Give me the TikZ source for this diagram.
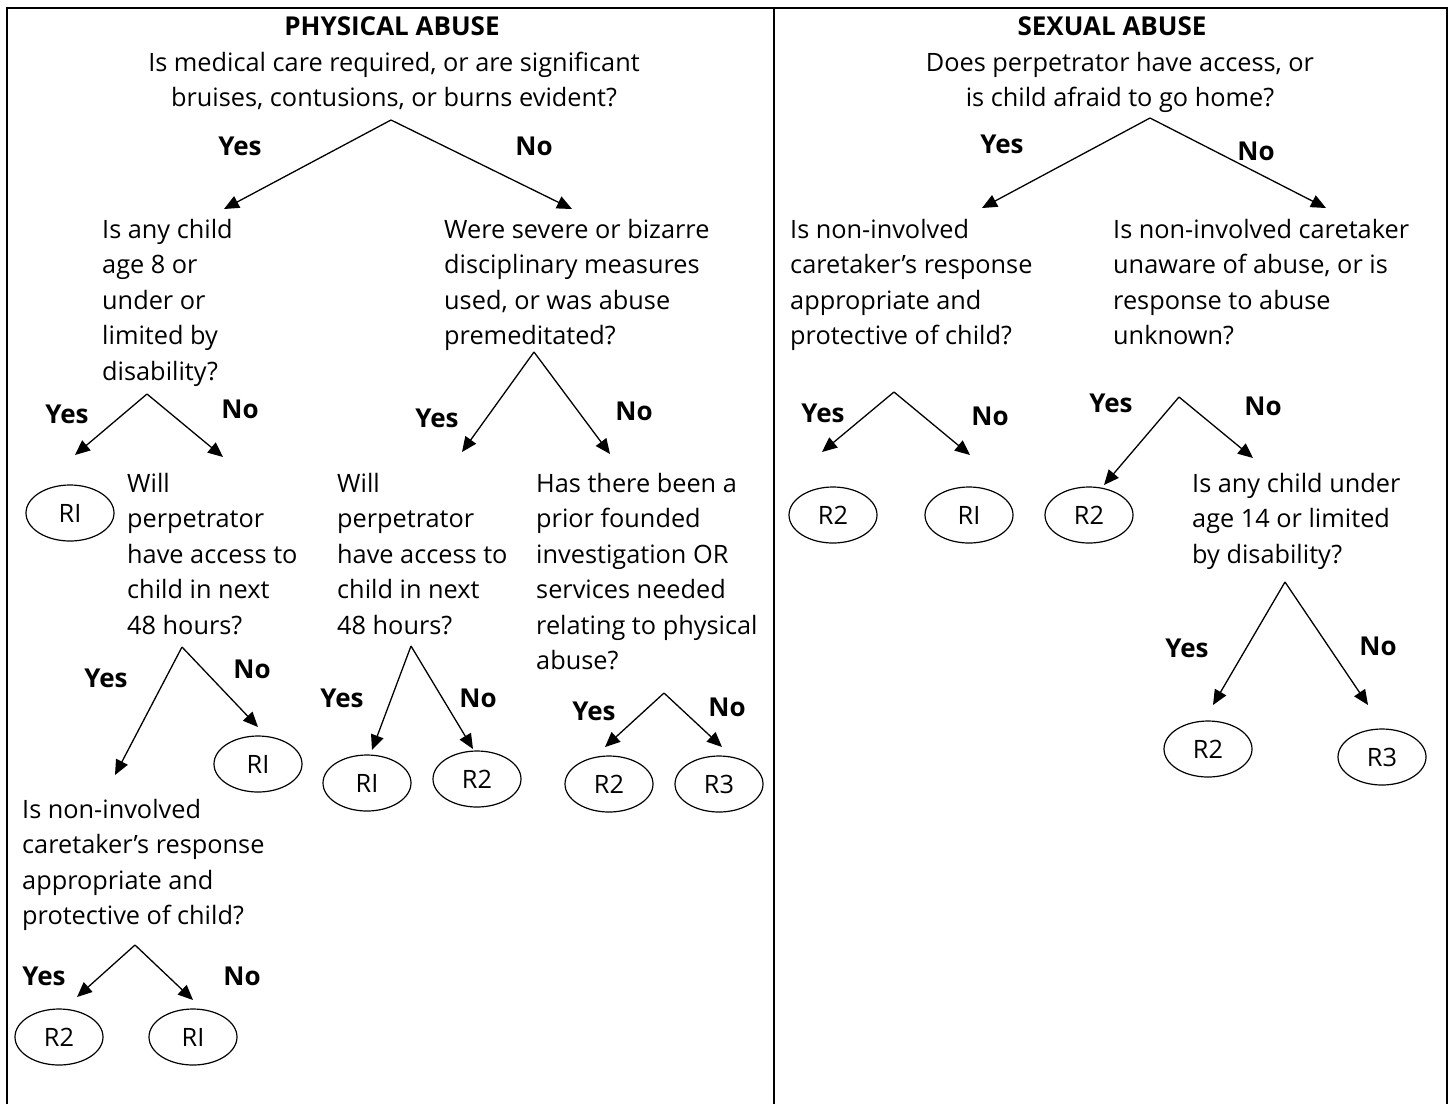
\documentclass[tikz,border=0pt]{standalone}
\usepackage{fontspec}
\setmainfont{Open Sans}
\usetikzlibrary{arrows.meta,shapes.geometric}
\newcommand\qL[1]{\vtop{\baselineskip=35.5pt\lineskiplimit=-100pt\lineskip=0pt\halign{##\hfil\cr#1\crcr}}}
\newcommand\qC[1]{\vtop{\baselineskip=35.5pt\lineskiplimit=-100pt\lineskip=0pt\halign{\hfil##\hfil\cr#1\crcr}}}
\begin{document}
\begin{tikzpicture}[x=1pt,y=-1pt,
  every node/.style={font=\fontsize{25.3}{35.5}\selectfont},
  qtext/.style={inner sep=0pt, anchor=base west},
  qctr/.style={inner sep=0pt, anchor=base},
  ttl/.style={inner sep=0pt, anchor=base, font=\fontsize{26}{35.5}\selectfont\bfseries},
  lbl/.style={inner sep=0pt, font=\fontsize{26}{35.5}\selectfont\bfseries},
  res/.style={draw, ellipse, inner sep=0pt, minimum width=88pt, minimum height=56pt, line width=1.2pt},
  arr/.style={line width=1.3pt, -{Triangle[length=15pt,width=13pt]}},
  frame/.style={line width=2.2pt}]
\useasboundingbox (0,0) rectangle (1453,1104);
% frame
\draw[frame] (7,1104) -- (7,8) -- (1447,8) -- (1447,1104);
\draw[frame] (774,8) -- (774,1104);

% ===== PHYSICAL ABUSE =====
\node[ttl] (t1) at (392,35) {PHYSICAL ABUSE};
\node[qctr] (q0) at (394,71) {\qC{Is medical care required, or are significant\cr bruises, contusions, or burns evident?}};
\coordinate (a0) at (391,120);
\coordinate (a0y) at (224,209);
\coordinate (a0n) at (572,209);
\draw[arr] (a0) -- (a0y);
\draw[arr] (a0) -- (a0n);
\node[lbl] (l0y) at (240,146) {Yes};
\node[lbl] (l0n) at (534,146) {No};

\node[qtext] (q1) at (102,238) {\qL{Is any child\cr age 8 or\cr under or\cr limited by\cr disability?}};
\node[qtext] (q2) at (444,238) {\qL{Were severe or bizarre\cr disciplinary measures\cr used, or was abuse\cr premeditated?}};

\coordinate (a1) at (147,394);
\coordinate (a1y) at (75,455);
\coordinate (a1n) at (223,457);
\draw[arr] (a1) -- (a1y);
\draw[arr] (a1) -- (a1n);
\node[lbl] (l1y) at (67,414) {Yes};
\node[lbl] (l1n) at (240,409) {No};
\node[res] (e1) at (70,513) {RI};
\node[qtext] (q3) at (127,492) {\qL{Will\cr perpetrator\cr have access to\cr child in next\cr 48 hours?}};

\coordinate (a3) at (182,647);
\coordinate (a3y) at (115,775);
\coordinate (a3n) at (258,727);
\draw[arr] (a3) -- (a3y);
\draw[arr] (a3) -- (a3n);
\node[lbl] (l3y) at (106,678) {Yes};
\node[lbl] (l3n) at (252,669) {No};
\node[res] (e2) at (258,764) {RI};
\node[qtext] (q4) at (22,818) {\qL{Is non-involved\cr caretaker’s response\cr appropriate and\cr protective of child?}};

\coordinate (a4) at (135,945);
\coordinate (a4y) at (77,997);
\coordinate (a4n) at (193,1000);
\draw[arr] (a4) -- (a4y);
\draw[arr] (a4) -- (a4n);
\node[lbl] (l4y) at (44,976) {Yes};
\node[lbl] (l4n) at (242,976) {No};
\node[res] (e3) at (59,1037) {R2};
\node[res] (e4) at (193,1037) {RI};

\coordinate (a2) at (534,352);
\coordinate (a2y) at (462,452);
\coordinate (a2n) at (610,454);
\draw[arr] (a2) -- (a2y);
\draw[arr] (a2) -- (a2n);
\node[lbl] (l2y) at (437,418) {Yes};
\node[lbl] (l2n) at (634,411) {No};
\node[qtext] (q5) at (337,492) {\qL{Will\cr perpetrator\cr have access to\cr child in next\cr 48 hours?}};
\node[qtext] (q6) at (536,492) {\qL{Has there been a\cr prior founded\cr investigation OR\cr services needed\cr relating to physical\cr abuse?}};

\coordinate (a5) at (411,646);
\coordinate (a5y) at (372,750);
\coordinate (a5n) at (473,749);
\draw[arr] (a5) -- (a5y);
\draw[arr] (a5) -- (a5n);
\node[lbl] (l5y) at (342,698) {Yes};
\node[lbl] (l5n) at (478,698) {No};
\node[res] (e5) at (367,783) {RI};
\node[res] (e6) at (477,779) {R2};

\coordinate (a6) at (664,693);
\coordinate (a6y) at (605,747);
\coordinate (a6n) at (722,747);
\draw[arr] (a6) -- (a6y);
\draw[arr] (a6) -- (a6n);
\node[lbl] (l6y) at (594,711) {Yes};
\node[lbl] (l6n) at (727,707) {No};
\node[res] (e7) at (609,784) {R2};
\node[res] (e8) at (719,784) {R3};

% ===== SEXUAL ABUSE =====
\node[ttl] (t2) at (1112,35) {SEXUAL ABUSE};
\node[qctr] (q7) at (1120,71) {\qC{Does perpetrator have access, or\cr is child afraid to go home?}};
\coordinate (a7) at (1150,118);
\coordinate (a7y) at (982,208);
\coordinate (a7n) at (1326,208);
\draw[arr] (a7) -- (a7y);
\draw[arr] (a7) -- (a7n);
\node[lbl] (l7y) at (1002,144) {Yes};
\node[lbl] (l7n) at (1256,151) {No};

\node[qtext] (q8) at (790,238) {\qL{Is non-involved\cr caretaker’s response\cr appropriate and\cr protective of child?}};
\node[qtext] (q9) at (1113,238) {\qL{Is non-involved caretaker\cr unaware of abuse, or is\cr response to abuse\cr unknown?}};

\coordinate (a8) at (894,392);
\coordinate (a8y) at (822,452);
\coordinate (a8n) at (970,455);
\draw[arr] (a8) -- (a8y);
\draw[arr] (a8) -- (a8n);
\node[lbl] (l8y) at (823,413) {Yes};
\node[lbl] (l8n) at (990,416) {No};
\node[res] (e9) at (833,515) {R2};
\node[res] (e10) at (969,515) {RI};

\coordinate (a9) at (1179,397);
\coordinate (a9y) at (1104,485);
\coordinate (a9n) at (1253,458);
\draw[arr] (a9) -- (a9y);
\draw[arr] (a9) -- (a9n);
\node[lbl] (l9y) at (1111,403) {Yes};
\node[lbl] (l9n) at (1263,406) {No};
\node[res] (e11) at (1089,515) {R2};
\node[qtext] (q10) at (1192,492) {\qL{Is any child under\cr age 14 or limited\cr by disability?}};

\coordinate (a10) at (1285,582);
\coordinate (a10y) at (1213,705);
\coordinate (a10n) at (1368,705);
\draw[arr] (a10) -- (a10y);
\draw[arr] (a10) -- (a10n);
\node[lbl] (l10y) at (1187,648) {Yes};
\node[lbl] (l10n) at (1378,646) {No};
\node[res] (e12) at (1208,749) {R2};
\node[res] (e13) at (1382,757) {R3};
\end{tikzpicture}
\end{document}
